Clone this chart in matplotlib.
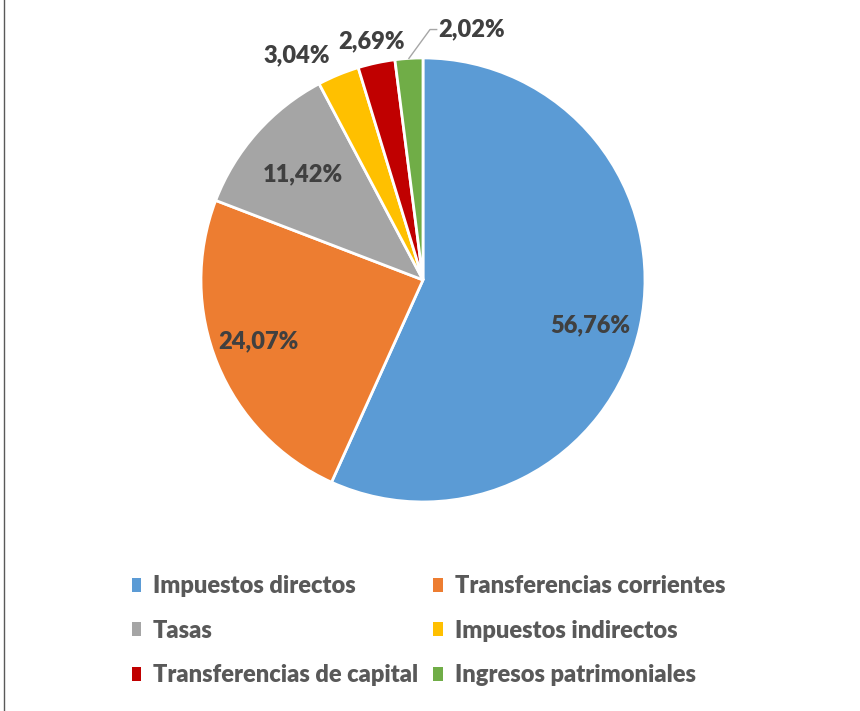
import numpy as np
import matplotlib
matplotlib.use("Agg")
import matplotlib.pyplot as plt
from matplotlib.lines import Line2D

plt.rcParams['font.family'] = ['Lato', 'DejaVu Sans']

categories = ["Impuestos directos", "Transferencias corrientes", "Tasas",
              "Impuestos indirectos", "Transferencias de capital", "Ingresos patrimoniales"]
shares = [56.76, 24.07, 11.42, 3.04, 2.69, 2.02]
colors = ["#5B9BD5", "#ED7D31", "#A5A5A5", "#FFC000", "#C00000", "#70AD47"]

fig = plt.figure(figsize=(8.6, 7.11), dpi=100)
ax = fig.add_axes([0.2337, 0.294, 0.5163, 0.6245])
wedges, _ = ax.pie(shares, colors=colors, startangle=90, counterclock=False,
                   radius=1.0, wedgeprops=dict(edgecolor="white", linewidth=2))
ax.set_xlim(-1, 1)
ax.set_ylim(-1, 1)
ax.set_aspect('equal')

# label placement: distance from centre for each slice
label_r = [0.78, 0.79, 0.72, 1.16, 1.10, None]
label_shift = [-3, -2, 0, 7, 0, 0]
for i, (w, v) in enumerate(zip(wedges, shares)):
    mid = np.deg2rad((w.theta1 + w.theta2) / 2 + label_shift[i])
    txt = f"{v:.2f}%".replace(".", ",")
    if label_r[i] is not None:
        ax.text(label_r[i] * np.cos(mid), label_r[i] * np.sin(mid), txt,
                ha="center", va="center", fontsize=17, fontweight="heavy", color="#404040")
    else:
        # leader line for the smallest slice
        x0, y0 = np.cos(mid), np.sin(mid)
        x1, y1 = x0 + 0.095, y0 + 0.13
        ax.plot([x0, x1, x1 + 0.03], [y0, y1, y1], color="#A6A6A6", lw=1, clip_on=False)
        ax.text(x1 + 0.035, y1, txt, ha="left", va="center", fontsize=17,
                fontweight="heavy", color="#404040")

# legend is filled row by row in the reference
order = [0, 2, 4, 1, 3, 5]
leg = fig.legend([wedges[i] for i in order], [categories[i] for i in order], ncol=2,
                 loc="center", bbox_to_anchor=(0.498, 0.113),
                 frameon=False, fontsize=17, handlelength=0.4, handleheight=0.55,
                 handletextpad=0.5, columnspacing=0.65, labelspacing=0.95)
for t in leg.get_texts():
    t.set_color("#595959")
    t.set_fontweight("heavy")
for h in leg.legend_handles:
    h.set_edgecolor("none")

fig.add_artist(Line2D([0.005, 0.005], [0, 1], color="#595959", lw=1, transform=fig.transFigure))

fig.savefig("out.png", dpi=100)
